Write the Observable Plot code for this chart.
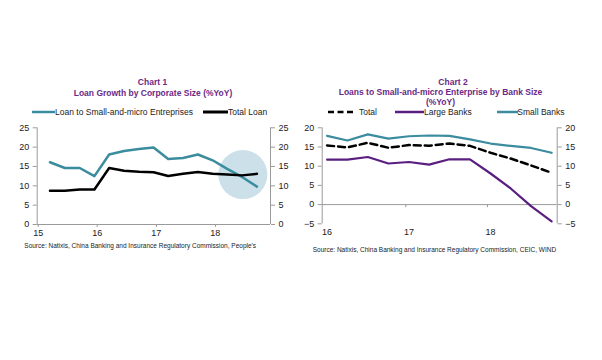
<!DOCTYPE html>
<html>
<head>
<meta charset="utf-8">
<script src="https://cdn.jsdelivr.net/npm/d3@7"></script>
<script src="https://cdn.jsdelivr.net/npm/@observablehq/plot@0.6"></script>
<style>
  html, body { margin: 0; padding: 0; background: #fff; }
  #root { position: relative; width: 602px; height: 360px; overflow: hidden; font-family: "Liberation Sans", Arial, sans-serif; color: #222; }
  .t { position: absolute; white-space: nowrap; transform: translateX(-50%); font-weight: bold; color: #6a2a86; font-size: 8.5px; line-height: 10px; }
  .lg { position: absolute; white-space: nowrap; font-size: 8.5px; line-height: 10px; color: #222; }
  .src { position: absolute; white-space: nowrap; font-size: 6.5px; line-height: 8px; color: #222; }
  .sw { position: absolute; }
  .plot { position: absolute; }
</style>
</head>
<body>
<div id="root"></div>
<script>
// ---------- Chart 1 data ----------
const c1Dates = ["2015-03-15","2015-06-15","2015-09-15","2015-12-15","2016-03-15","2016-06-15","2016-09-15","2016-12-15","2017-03-15","2017-06-15","2017-09-15","2017-12-15","2018-03-15","2018-06-15","2018-09-15"];
const c1SmallMicro = [16.1, 14.6, 14.6, 12.5, 18.1, 19.0, 19.5, 19.9, 16.95, 17.2, 18.1, 16.6, 14.4, 12.3, 9.8];
const c1TotalLoan  = [8.7, 8.7, 9.05, 9.05, 14.6, 13.9, 13.65, 13.5, 12.55, 13.1, 13.55, 13.1, 12.9, 12.7, 13.1];
const c1YTicks = [0, 5, 10, 15, 20, 25];
const c1XTicks = ["2015-01-01","2016-01-01","2017-01-01","2018-01-01"];
const c1XLabels = ["15","16","17","18"];
const c1XDomain = ["2014-12-26","2018-12-08"];
const c1YDomain = [0, 25];
const c1Highlight = [{date: "2018-06-20", value: 12.9}];

// ---------- Chart 2 data ----------
const c2Dates = ["2016-01-15","2016-04-15","2016-07-15","2016-10-15","2017-01-15","2017-04-15","2017-07-15","2017-10-15","2018-01-15","2018-04-15","2018-07-15","2018-10-15"];
const c2Total = [15.4, 14.9, 16.1, 14.8, 15.5, 15.35, 15.9, 15.3, 13.5, 12.0, 10.2, 8.3];
const c2Large = [11.7, 11.7, 12.4, 10.7, 11.1, 10.4, 11.8, 11.8, 8.1, 4.2, -0.4, -4.35];
const c2Small = [17.9, 16.7, 18.3, 17.2, 17.8, 18.0, 17.9, 17.0, 15.9, 15.3, 14.75, 13.5];
const c2YTicks = [-5, 0, 5, 10, 15, 20];
const c2XTickMarks = ["2017-01-01","2018-01-01"];
const c2XLabelDates = ["2016-01-15","2017-01-15","2018-01-15"];
const c2XLabels = ["16","17","18"];
const c2XDomain = ["2015-12-24","2018-11-09"];
const c2YDomain = [-5, 20];

const TEAL = "#3a8c9e", BLACK = "#000", PURPLE = "#5a1e80", AXIS = "#9a9a9a", TXT = "#222";
const FONT = "'Liberation Sans', Arial, sans-serif";

const root = document.getElementById("root");
function addDiv(cls, html, style) {
  const d = document.createElement("div");
  d.className = cls; d.innerHTML = html;
  Object.assign(d.style, style);
  root.appendChild(d);
  return d;
}
function swatch(x, y, w, color, width, dash) {
  const s = `<svg width="${w}" height="6" style="display:block"><line x1="0" x2="${w}" y1="3" y2="3" stroke="${color}" stroke-width="${width}" ${dash ? `stroke-dasharray="${dash}"` : ""}/></svg>`;
  addDiv("sw", s, {left: x + "px", top: (y - 3) + "px"});
}

// ---------- Chart 1 ----------
addDiv("t", "Chart 1", {left: "152.5px", top: "77.3px"});
addDiv("t", "Loan Growth by Corporate Size (%YoY)", {left: "153px", top: "87.7px"});
swatch(31.7, 112.3, 23.5, TEAL, 2.5);
addDiv("lg", "Loan to Small-and-micro Entreprises", {left: "55px", top: "107.3px"});
swatch(203, 112.3, 25, BLACK, 3);
addDiv("lg", "Total Loan", {left: "228px", top: "107.3px"});
addDiv("src", "Source: Natixis, China Banking and Insurance Regulatory Commission, People's", {left: "24.3px", top: "241.7px"});

const rows1 = c1Dates.map((d, i) => ({date: new Date(d), small: c1SmallMicro[i], total: c1TotalLoan[i]}));
const hl1 = c1Highlight.map(d => ({date: new Date(d.date), value: d.value}));
const x1Dom = c1XDomain.map(d => new Date(d));
const x1Ticks = c1XTicks.map(d => new Date(d));

const p1 = Plot.plot({
  width: 300, height: 130,
  marginTop: 10.3, marginBottom: 23, marginLeft: 36.7, marginRight: 30,
  style: {fontFamily: FONT, fontSize: "9px", background: "transparent", overflow: "visible", color: TXT},
  x: {type: "utc", domain: x1Dom},
  y: {domain: c1YDomain},
  marks: [
    Plot.dot(hl1, {x: "date", y: "value", r: 24.5, fill: "#cbe0e8", stroke: null}),
    Plot.ruleY([c1YDomain[0]], {stroke: AXIS}),
    Plot.ruleX([x1Dom[0], x1Dom[1]], {stroke: AXIS}),
    Plot.axisY({anchor: "left", ticks: c1YTicks, tickSize: 4, tickPadding: 4, stroke: AXIS, fill: TXT, fontSize: 9}),
    Plot.axisY({anchor: "right", ticks: c1YTicks, tickSize: 4, tickPadding: 4, stroke: AXIS, fill: TXT, fontSize: 9}),
    Plot.axisX({anchor: "bottom", ticks: x1Ticks, tickFormat: (d, i) => c1XLabels[i], tickSize: 3, tickPadding: 2, stroke: AXIS, fill: TXT, fontSize: 9}),
    Plot.line(rows1, {x: "date", y: "small", stroke: TEAL, strokeWidth: 2.5}),
    Plot.line(rows1, {x: "date", y: "total", stroke: BLACK, strokeWidth: 2.5})
  ]
});
p1.classList.add("plot");
Object.assign(p1.style, {left: "0px", top: "117px"});
root.appendChild(p1);

// ---------- Chart 2 ----------
addDiv("t", "Chart 2", {left: "453px", top: "77.3px"});
addDiv("t", "Loans to Small-and-micro Enterprise by Bank Size", {left: "440.5px", top: "87.3px"});
addDiv("t", "(%YoY)", {left: "440.5px", top: "97.3px"});
swatch(328, 112.3, 25, BLACK, 2.5, "6,3.5");
addDiv("lg", "Total", {left: "359px", top: "107.3px"});
swatch(395, 112.3, 29, PURPLE, 2.5);
addDiv("lg", "Large Banks", {left: "424px", top: "107.3px"});
swatch(496.7, 112.3, 21, TEAL, 2.5);
addDiv("lg", "Small Banks", {left: "517.3px", top: "107.3px"});
addDiv("src", "Source: Natixis, China Banking and Insurance Regulatory Commission, CEIC, WIND", {left: "312.7px", top: "246px"});

const rows2 = c2Dates.map((d, i) => ({date: new Date(d), total: c2Total[i], large: c2Large[i], small: c2Small[i]}));
const x2Dom = c2XDomain.map(d => new Date(d));
const x2Marks = c2XTickMarks.map(d => new Date(d));
const x2Labels = c2XLabelDates.map(d => new Date(d));

const p2 = Plot.plot({
  width: 302, height: 130,
  marginTop: 10.3, marginBottom: 23.7, marginLeft: 21.7, marginRight: 45.3,
  style: {fontFamily: FONT, fontSize: "9px", background: "transparent", overflow: "visible", color: TXT},
  x: {type: "utc", domain: x2Dom},
  y: {domain: c2YDomain},
  marks: [
    Plot.ruleY([0], {stroke: AXIS}),
    Plot.ruleX(x2Marks, {x: d => d, y1: 0, y2: 0, insetBottom: -3, stroke: AXIS}),
    Plot.ruleX([x2Dom[0], x2Dom[1]], {stroke: AXIS}),
    Plot.axisY({anchor: "left", ticks: c2YTicks, tickSize: 4, tickPadding: 4, stroke: AXIS, fill: TXT, fontSize: 9}),
    Plot.axisY({anchor: "right", ticks: c2YTicks, tickSize: 4, tickPadding: 4, stroke: AXIS, fill: TXT, fontSize: 9}),
    Plot.axisX({anchor: "bottom", ticks: x2Labels, tickFormat: (d, i) => c2XLabels[i], tickSize: 0, tickPadding: 5, fill: TXT, fontSize: 9}),
    Plot.line(rows2, {x: "date", y: "small", stroke: TEAL, strokeWidth: 2.2}),
    Plot.line(rows2, {x: "date", y: "total", stroke: BLACK, strokeWidth: 2.5, strokeDasharray: "7,4"}),
    Plot.line(rows2, {x: "date", y: "large", stroke: PURPLE, strokeWidth: 2.2})
  ]
});
p2.classList.add("plot");
Object.assign(p2.style, {left: "300px", top: "117px"});
root.appendChild(p2);
</script>
</body>
</html>
